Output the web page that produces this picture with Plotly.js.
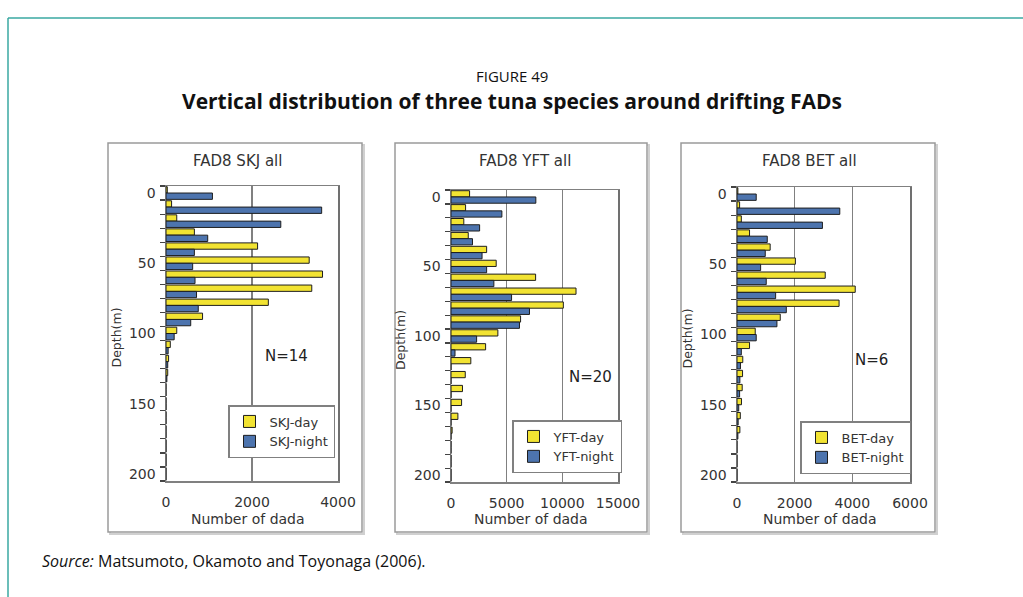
<!DOCTYPE html>
<html>
<head>
<meta charset="utf-8">
<script src="https://cdn.plot.ly/plotly-3.0.1.min.js"></script>
<style>html,body{margin:0;padding:0;background:#fff;}#chart{width:1023px;height:597px;}</style>
</head>
<body>
<div id="chart"></div>
<script>
// ---- data (depth classes in m, counts) ----
const depth = [0,10,20,30,40,50,60,70,80,90,100,110,120,130,140,150,160,170,180,190,200];
const depthTicks = [0,50,100,150,200];

const skjDay   = [30,130,250,660,2130,3330,3640,3390,2380,850,250,100,60,40,0,0,0,0,0,0,0];
const skjNight = [1080,3620,2670,970,660,620,675,710,750,575,190,50,40,20,0,0,0,0,0,0,0];

const yftDay   = [1670,1310,1150,1550,3200,4060,7600,11230,10090,6250,4210,3110,1780,1280,1030,950,620,100,0,0,0];
const yftNight = [7620,4570,2570,1930,2790,3200,3850,5440,7050,6150,2300,360,0,0,0,0,0,0,0,0,0];

const betDay   = [30,90,150,435,1150,2025,3060,4100,3540,1500,632,435,200,193,180,155,115,100,0,0,0];
const betNight = [667,3565,2963,1050,980,820,1014,1340,1710,1385,667,150,120,100,90,60,40,30,0,0,0];

const panelTitles = ['FAD8 SKJ all','FAD8 YFT all','FAD8 BET all'];
const nLabels = ['N=14','N=20','N=6'];
const seriesNames = [['SKJ-day','SKJ-night'],['YFT-day','YFT-night'],['BET-day','BET-night']];
const xRanges = [[0,4000],[0,15000],[0,6000]];
const xTicks = [[0,2000,4000],[0,5000,10000,15000],[0,2000,4000,6000]];
const xTickText = [['0','2000','4000'],['0','5000','10000','15000'],['0','2000','4000','6000']];

// ---- styling ----
const W = 1023, H = 597;
const px = x => x / W;
const py = y => 1 - y / H;
const YELLOW = '#f2e332';
const BLUE = '#4d74ae';
const FONT = 'DejaVu Sans';
const TXT = '#333333';

const dayData = [skjDay, yftDay, betDay];
const nightData = [skjNight, yftNight, betNight];

// pixel geometry of each panel
const plots = [
  {x0:166, x1:338, y0:186, y1:481, box:[108,143,362,532], leg:[228,405], n:[286,356], title:237},
  {x0:451, x1:618, y0:190, y1:482, box:[395,143,647,532], leg:[512,420], n:[590,377], title:525},
  {x0:737, x1:910, y0:187, y1:482, box:[681,143,935,532], leg:[800,421], n:[871,360], title:809}
];

const traces = [];
const layout = {
  width: W, height: H,
  margin: {l:0, r:0, t:0, b:0},
  paper_bgcolor: '#ffffff',
  plot_bgcolor: '#ffffff',
  barmode: 'group',
  bargap: 0.1,
  bargroupgap: 0,
  font: {family: FONT, color: TXT, size: 13},
  shapes: [],
  annotations: []
};

plots.forEach((p, i) => {
  const sfx = i === 0 ? '' : String(i + 1);
  const legName = 'legend' + sfx;
  traces.push({
    type: 'bar', orientation: 'h', y: depth, x: dayData[i], name: seriesNames[i][0],
    marker: {color: YELLOW, line: {color: '#1e1e1e', width: 1}},
    xaxis: 'x' + sfx, yaxis: 'y' + sfx, legend: legName, legendgroup: 'd' + i, hoverinfo: 'x+y'
  });
  traces.push({
    type: 'bar', orientation: 'h', y: depth, x: nightData[i], name: seriesNames[i][1],
    marker: {color: BLUE, line: {color: '#1e1e1e', width: 1}},
    xaxis: 'x' + sfx, yaxis: 'y' + sfx, legend: legName, legendgroup: 'n' + i, hoverinfo: 'x+y'
  });

  layout['xaxis' + sfx] = {
    domain: [px(p.x0), px(p.x1)], anchor: 'y' + sfx,
    range: xRanges[i], tickmode: 'array', tickvals: xTicks[i], ticktext: xTickText[i],
    ticks: '', ticklabelstandoff: 8,
    showgrid: true, gridcolor: '#808080', gridwidth: 1.2,
    zeroline: false, showline: true, mirror: true, linecolor: '#808080', linewidth: 1.5,
    tickfont: {family: FONT, size: 14, color: TXT}, fixedrange: true
  };
  layout['yaxis' + sfx] = {
    domain: [py(p.y1), py(p.y0)], anchor: 'x' + sfx,
    range: [205, -5], tickmode: 'array', tickvals: depthTicks,
    ticks: '', ticklabelstandoff: 6,
    minor: {tick0: -5, dtick: 10, ticks: 'outside', ticklen: 5, tickcolor: '#444', tickwidth: 1.2, showgrid: false},
    showgrid: false, zeroline: false, showline: true, mirror: true, linecolor: '#707070', linewidth: 1.5,
    tickfont: {family: FONT, size: 14, color: TXT}, fixedrange: true
  };
  layout[legName] = {
    x: px(p.leg[0]), y: py(p.leg[1]), xanchor: 'left', yanchor: 'top',
    bgcolor: '#ffffff', bordercolor: '#808080', borderwidth: 1.5,
    font: {family: FONT, size: 13, color: TXT}, tracegroupgap: 9, traceorder: 'normal'
  };
  // chart-area frame
  layout.shapes.push({type:'rect', xref:'paper', yref:'paper',
    x0: px(p.box[0]+2), x1: px(p.box[2]+2), y0: py(p.box[3]+2), y1: py(p.box[1]+2),
    line: {color:'#d0d0d0', width: 2}, layer: 'below'});
  layout.shapes.push({type:'rect', xref:'paper', yref:'paper',
    x0: px(p.box[0]), x1: px(p.box[2]), y0: py(p.box[3]), y1: py(p.box[1]),
    line: {color:'#9a9a9a', width: 1.5}, fillcolor: '#ffffff', layer: 'below'});
  // texts
  layout.annotations.push({xref:'paper', yref:'paper', x: px(p.title), y: py(161),
    text: panelTitles[i], showarrow: false, xanchor: 'center', yanchor: 'middle',
    font: {family: FONT, size: 15, color: TXT}});
  layout.annotations.push({xref:'paper', yref:'paper', x: px(p.n[0]), y: py(p.n[1]),
    text: nLabels[i], showarrow: false, xanchor: 'center', yanchor: 'middle',
    font: {family: FONT, size: 15, color: '#222'}});
  layout.annotations.push({xref:'paper', yref:'paper', x: px(p.x0 - 50), y: py((p.y0 + p.y1) / 2 + 4),
    text: 'Depth(m)', textangle: -90, showarrow: false, xanchor: 'center', yanchor: 'middle',
    font: {family: FONT, size: 12.5, color: TXT}});
  layout.annotations.push({xref:'paper', yref:'paper', x: px((p.x0 + p.x1) / 2 - 4), y: py(519),
    text: 'Number of dada', showarrow: false, xanchor: 'center', yanchor: 'middle',
    font: {family: FONT, size: 14, color: TXT}});
});

// document frame (teal) and figure captions
layout.shapes.push({type:'line', xref:'paper', yref:'paper', x0: px(8), x1: 1, y0: py(18), y1: py(18),
  line: {color:'#3aa9a2', width: 1.5}});
layout.shapes.push({type:'line', xref:'paper', yref:'paper', x0: px(8), x1: px(8), y0: py(18), y1: 0,
  line: {color:'#3aa9a2', width: 1.5}});
layout.annotations.push({xref:'paper', yref:'paper', x: px(512), y: py(76),
  text: 'FIGURE 49', showarrow: false, xanchor: 'center', yanchor: 'middle',
  font: {family: 'Open Sans', size: 15, color: '#111'}});
layout.annotations.push({xref:'paper', yref:'paper', x: px(512), y: py(101),
  text: '<b>Vertical distribution of three tuna species around drifting FADs</b>', showarrow: false,
  xanchor: 'center', yanchor: 'middle', font: {family: 'Open Sans', size: 21, color: '#111'}});
layout.annotations.push({xref:'paper', yref:'paper', x: px(40), y: py(561),
  text: '<i>Source:</i> Matsumoto, Okamoto and Toyonaga (2006).', showarrow: false,
  xanchor: 'left', yanchor: 'middle', font: {family: 'Open Sans', size: 16, color: '#111'}});

Plotly.newPlot('chart', traces, layout, {displayModeBar: false, staticPlot: true});
</script>
</body>
</html>
